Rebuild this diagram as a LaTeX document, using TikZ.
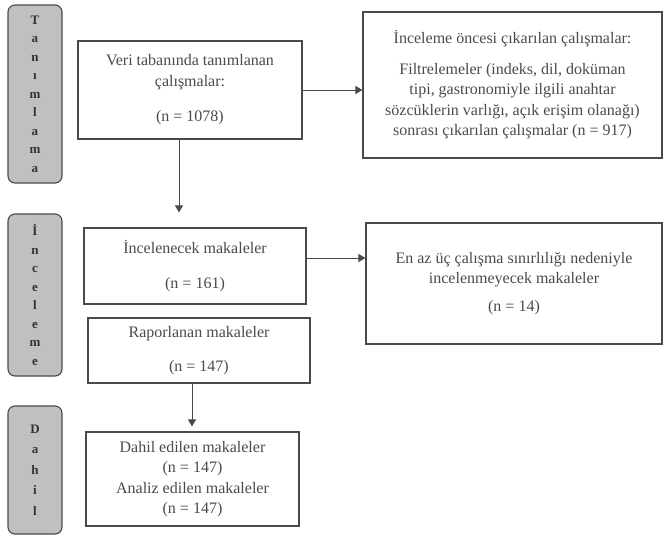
\documentclass[tikz,border=0pt]{standalone}
\usepackage{fontspec}
\setmainfont{Liberation Serif}
\usetikzlibrary{arrows.meta}
\definecolor{phase}{HTML}{C0C0C0}
\definecolor{ink}{HTML}{4A4A4A}
\begin{document}
\begin{tikzpicture}[
			x=1pt, y=-1pt,
			main/.style = {draw=ink, line width=1.1pt, text=ink, align=center, font=\fontsize{16}{20.5}\selectfont, inner sep=0pt},
			phase/.style = {draw=ink, fill=phase, line width=1.1pt, rounded corners=7pt, minimum width=54pt, align=center, text=black!80, font=\fontsize{13}{18.5}\selectfont\bfseries, inner sep=0pt},
			arr/.style = {draw=ink, line width=0.9pt, -{Triangle[width=8pt,length=7pt]}}
		]
		\useasboundingbox (0,0) rectangle (664,536);
		% Phases.
		\node[phase, minimum height=178pt] (tan) at (35,94) {T\\a\\n\\ı\\m\\l\\a\\m\\a};
		\node[phase, minimum height=162pt] (inc) at (35,295) {İ\\n\\c\\e\\l\\e\\m\\e};
		\node[phase, minimum height=128pt, font=\fontsize{13}{20.5}\selectfont\bfseries] (dah) at (35,470) {D\\a\\h\\i\\l};
		% Level 1.
		\node[main, minimum width=224pt, minimum height=98pt] (veri) at (190,90) {Veri tabanında tanımlanan\\çalışmalar:\\[15pt](n = 1078)};
		\node[main, minimum width=299pt, minimum height=146pt] (once) at (512.5,85) {İnceleme öncesi çıkarılan çalışmalar:\\[10pt]Filtrelemeler (indeks, dil, doküman\\tipi, gastronomiyle ilgili anahtar\\sözcüklerin varlığı, açık erişim olanağı)\\sonrası çıkarılan çalışmalar (n = 917)};
		% Level 2.
		\node[main, minimum width=222pt, minimum height=76pt] (incm) at (195,266) {İncelenecek makaleler\\[14pt](n = 161)};
		\node[main, minimum width=296pt, minimum height=121pt] (sinir) at (514,283.5) {En az üç çalışma sınırlılığı nedeniyle\\incelenmeyecek makaleler\\[7pt](n = 14)};
		\node[main, minimum width=222pt, minimum height=65pt] (rapor) at (199,350.5) {Raporlanan makaleler\\[14pt](n = 147)};
		% Level 3.
		\node[main, minimum width=213pt, minimum height=94pt] (dahil) at (192.5,479) {Dahil edilen makaleler\\(n = 147)\\Analiz edilen makaleler\\(n = 147)};

		\draw[arr] (veri.east) -- (veri.east -| once.west);
		\draw[arr, shorten >=15pt] ([xshift=-11pt]veri.south) -- ([xshift=-11pt]veri.south |- incm.north);
		\draw[arr] ([yshift=8pt]incm.east) -- ([yshift=8pt]incm.east -| sinir.west);
		\draw[arr, shorten >=5pt] ([xshift=-7pt]rapor.south) -- ([xshift=-7pt]rapor.south |- dahil.north);
	\end{tikzpicture}
\end{document}
